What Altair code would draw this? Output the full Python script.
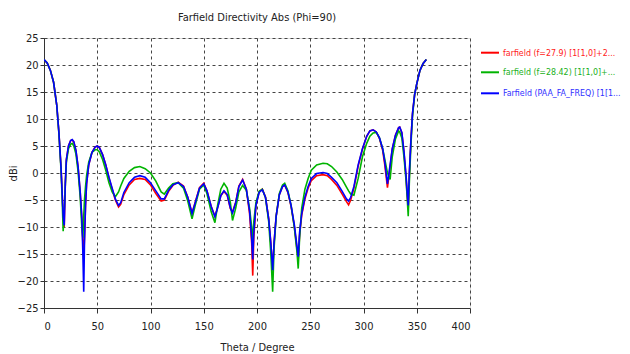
import altair as alt
import pandas as pd

# ---------------- data ----------------
theta = [0, 3, 6, 9, 12, 14, 16, 17, 18, 19, 20, 21, 23, 25, 26.5, 28, 30, 32, 34, 35.5,
         36.5, 37.3, 38, 39, 40, 42, 45, 48, 50, 52, 55, 58, 61, 64, 67, 70, 72, 75, 80, 85,
         90, 95, 100, 105, 110, 113, 117, 121, 126, 131, 135, 139, 142, 146, 150, 153, 157, 160.5, 163, 166,
         169, 172, 175, 177, 180, 183, 186.5, 190, 193, 195, 196, 197, 199, 202, 205, 208, 211, 213, 214.7, 216,
         218, 221, 224, 226, 229, 232, 235, 237.5, 238.7, 240, 242, 245, 248, 251, 256, 262, 266, 270, 275, 280,
         284, 286, 288, 291, 295, 299, 303, 306, 309, 312, 315, 318, 320, 322.5, 325, 327, 330, 333, 334, 336,
         338, 340, 341, 342, 343, 344.5, 346, 348, 350, 353, 356, 359]

blue = [21.0, 20.4, 19.0, 16.8, 12.5, 7.5, 1.0, -3.5, -8.0, -9.7, -2.0, 2.5, 5.0, 6.0, 6.2, 5.8, 4.2, 1.2, -3.5, -8.0,
        -15.0, -22.0, -13.0, -6.0, -2.0, 1.5, 3.8, 4.8, 5.0, 4.7, 3.4, 1.5, -0.8, -2.8, -4.8, -6.0, -5.5, -3.6, -1.8, -0.8,
        -0.5, -0.8, -1.8, -3.3, -4.8, -4.8, -3.2, -2.2, -1.8, -2.5, -4.5, -7.5, -5.5, -2.8, -2.0, -3.3, -6.2, -8.1, -6.5, -4.2,
        -3.3, -4.0, -6.5, -7.4, -5.5, -2.5, -1.3, -3.0, -7.0, -12.0, -16.0, -11.0, -6.0, -3.6, -3.1, -4.5, -8.5, -13.0, -18.0, -13.0,
        -8.0, -4.0, -2.5, -2.2, -3.5, -6.0, -9.5, -13.5, -15.5, -11.0, -7.5, -4.5, -2.5, -1.0, -0.1, 0.1, -0.1, -0.8, -1.8, -3.4,
        -4.8, -5.2, -4.5, -2.5, 1.5, 4.5, 6.8, 7.8, 8.0, 7.6, 6.5, 4.5, 2.0, -2.0, 1.5, 4.5, 7.0, 8.4, 8.5, 7.5,
        4.0, -0.5, -3.5, -6.0, 0.0, 6.0, 11.0, 14.5, 16.5, 19.0, 20.3, 21.0]

red = [21.0, 20.4, 19.0, 16.8, 12.5, 7.5, 1.0, -3.5, -8.0, -10.0, -2.0, 2.5, 5.0, 6.0, 6.1, 5.7, 4.1, 1.1, -3.6, -8.5,
       -13.0, -16.0, -12.0, -6.0, -2.0, 1.5, 3.8, 4.8, 5.0, 4.7, 3.4, 1.5, -0.9, -3.0, -5.0, -6.3, -5.8, -4.0, -2.2, -1.2,
       -1.0, -1.2, -2.2, -3.8, -5.2, -5.0, -3.4, -2.3, -1.7, -2.4, -4.5, -7.4, -5.4, -2.7, -1.9, -3.3, -6.2, -8.0, -6.4, -4.2,
       -3.4, -4.1, -6.6, -7.2, -5.4, -2.4, -1.2, -3.0, -7.5, -13.0, -19.0, -12.0, -6.0, -3.5, -3.0, -4.5, -8.5, -13.0, -18.0, -13.0,
       -8.0, -4.0, -2.5, -2.2, -3.6, -6.2, -9.8, -14.0, -16.0, -11.5, -7.8, -4.8, -2.8, -1.4, -0.5, -0.3, -0.5, -1.2, -2.3, -3.9,
       -5.3, -5.9, -5.0, -2.8, 1.3, 4.4, 6.8, 7.8, 8.0, 7.6, 6.4, 4.2, 1.5, -2.7, 1.2, 4.4, 7.0, 8.4, 8.5, 7.4,
       3.8, -1.0, -4.0, -6.5, -0.5, 6.0, 11.0, 14.5, 16.5, 19.0, 20.3, 21.0]

green = [21.0, 20.4, 19.0, 16.8, 12.5, 7.3, 0.5, -4.5, -10.8, -7.0, -2.5, 2.0, 4.5, 5.3, 5.5, 5.0, 3.5, 0.3, -4.5, -10.0,
         -12.0, -8.0, -5.0, -2.5, -0.5, 2.0, 3.8, 4.3, 4.3, 3.9, 2.5, 0.5, -1.8, -3.5, -4.4, -3.5, -2.4, -1.0, 0.3, 1.0,
         1.2, 0.8, 0.0, -1.5, -3.5, -3.9, -2.8, -2.0, -1.8, -2.8, -5.2, -8.5, -6.0, -3.0, -2.2, -3.8, -7.2, -9.2, -6.0, -3.0,
         -1.9, -2.8, -5.5, -8.8, -6.5, -3.5, -2.3, -3.2, -6.5, -10.0, -13.0, -9.0, -5.5, -3.4, -3.0, -4.6, -9.0, -15.0, -22.0, -14.0,
         -8.0, -3.8, -2.2, -1.9, -3.3, -6.0, -10.0, -14.5, -17.7, -12.0, -6.5, -3.0, -1.0, 0.5, 1.5, 1.8, 1.7, 1.2, 0.2, -1.2,
         -2.6, -3.3, -3.9, -4.1, -1.0, 3.0, 5.5, 6.8, 7.4, 7.5, 6.5, 4.5, 2.5, 0.0, -1.2, 3.0, 6.3, 7.8, 7.6, 6.5,
         3.0, -1.5, -4.5, -8.0, -2.0, 5.0, 10.5, 14.5, 16.5, 19.0, 20.3, 21.0]

series_names = ["farfield (f=27.9) [1[1,0]+2...",
                "farfield (f=28.42) [1[1,0]+...",
                "Farfield (PAA_FA_FREQ) [1[1..."]
line_colors = ["#ff0000", "#00b400", "#0000ff"]
label_colors = ["#ff2020", "#20b020", "#3030ff"]
x_ticks = list(range(0, 401, 50))
y_ticks = list(range(-25, 26, 5))

FONT = "Liberation Sans Narrow, DejaVu Sans Condensed, sans-serif"

values = [red, green, blue]

x_enc = alt.X("theta:Q",
              scale=alt.Scale(domain=[0, 400], nice=False, zero=False),
              axis=alt.Axis(values=x_ticks, title="Theta / Degree", grid=True,
                            gridDash=[3, 3], gridColor="#444444", gridWidth=1,
                            domainColor="#333333", tickColor="#333333", tickSize=5,
                            labelPadding=7, labelFont=FONT, labelFontSize=11, labelColor="#222222",
                            titleFont=FONT, titleFontSize=11, titleFontWeight="normal",
                            titleColor="#222222", titlePadding=10))
y_enc = alt.Y("db:Q",
              scale=alt.Scale(domain=[-25, 25], nice=False, zero=False),
              axis=alt.Axis(values=y_ticks, title="dBi", grid=True,
                            gridDash=[3, 3], gridColor="#444444", gridWidth=1,
                            domainColor="#333333", tickColor="#333333", tickSize=4,
                            labelPadding=2, labelFont=FONT, labelFontSize=11, labelColor="#222222",
                            titleFont=FONT, titleFontSize=11, titleFontWeight="normal",
                            titleColor="#222222", titleX=-31, titleY=135,
                            titleAlign="center", titleBaseline="middle", titleAngle=270))

layers = []
for name, col, vals in zip(series_names, line_colors, values):
    d = pd.DataFrame({"theta": theta, "db": vals, "series": name})
    layers.append(alt.Chart(d).mark_line(color=col, strokeWidth=1.6, clip=True)
                  .encode(x=x_enc, y=y_enc))

legend_y = [14.7, 34.3, 55.3]
for name, col, lcol, ly in zip(series_names, line_colors, label_colors, legend_y):
    ld = pd.DataFrame({"name": [name]})
    layers.append(alt.Chart(ld).mark_rule(color=col, strokeWidth=2)
                  .encode(x=alt.value(437), x2=alt.value(455), y=alt.value(ly)))
    layers.append(alt.Chart(ld).mark_text(align="left", baseline="middle", font=FONT,
                                          fontSize=8.8, color=lcol)
                  .encode(x=alt.value(459), y=alt.value(ly), text="name:N"))

chart = alt.layer(*layers).properties(
    width=426, height=270,
    title=alt.TitleParams("Farfield Directivity Abs (Phi=90)", font=FONT, fontSize=11,
                          fontWeight="normal", color="#222222", anchor="middle",
                          frame="group", offset=9),
    autosize=alt.AutoSizeParams(type="none"),
    padding={"left": 36, "top": 30, "right": 152, "bottom": 46},
).configure_view(stroke="#666666", strokeWidth=1.5).configure(background="white")

chart.save("out.html", embed_options={"renderer": "svg", "actions": False})
